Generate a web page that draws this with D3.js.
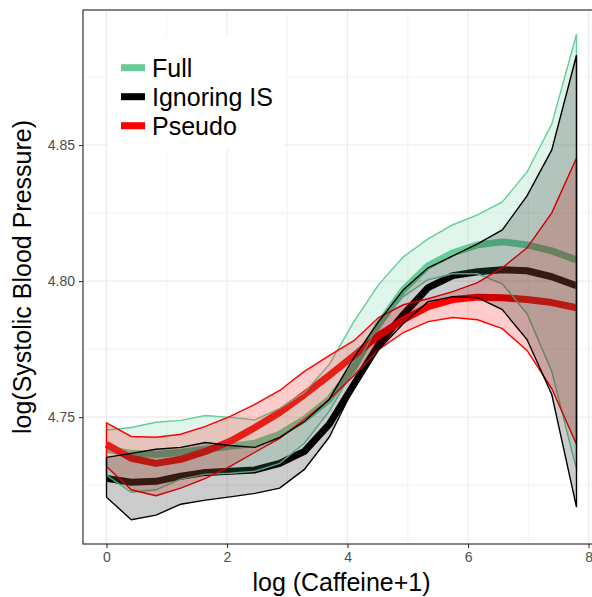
<!DOCTYPE html>
<html><head><meta charset="utf-8">
<script src="https://cdn.jsdelivr.net/npm/d3@7"></script>
<style>body{margin:0;background:#fff}svg{display:block}</style>
</head><body>
<script>
// ---- data ----
const caffeine = [0, 0.4105, 0.8211, 1.2316, 1.6421, 2.0526, 2.4632, 2.8737, 3.2842, 3.6947,
                  4.1053, 4.5158, 4.9263, 5.3368, 5.7474, 6.1579, 6.5684, 6.9789, 7.3895, 7.8];

const fullMean  = [4.7382, 4.7367, 4.7363, 4.7371, 4.7382, 4.7393, 4.7404, 4.7437, 4.7492, 4.7565,
                   4.7682, 4.7840, 4.7968, 4.8056, 4.8104, 4.8133, 4.8144, 4.8133, 4.8111, 4.8078];
const fullLower = [4.7286, 4.7224, 4.7233, 4.7272, 4.7290, 4.7294, 4.7301, 4.7330, 4.7404, 4.7521,
                   4.7675, 4.7840, 4.7943, 4.8005, 4.8027, 4.8027, 4.7990, 4.7880, 4.7668, 4.7308];
const fullUpper = [4.7453, 4.7462, 4.7481, 4.7488, 4.7506, 4.7499, 4.7490, 4.7532, 4.7591, 4.7693,
                   4.7851, 4.7987, 4.8089, 4.8155, 4.8207, 4.8243, 4.8291, 4.8401, 4.8577, 4.8907];

const ignMean   = [4.7275, 4.7261, 4.7264, 4.7283, 4.7297, 4.7301, 4.7306, 4.7330, 4.7374, 4.7473,
                   4.7620, 4.7767, 4.7877, 4.7976, 4.8020, 4.8034, 4.8042, 4.8038, 4.8016, 4.7983];
const ignLower  = [4.7206, 4.7123, 4.7140, 4.7180, 4.7195, 4.7207, 4.7220, 4.7239, 4.7308, 4.7426,
                   4.7609, 4.7748, 4.7844, 4.7924, 4.7943, 4.7939, 4.7895, 4.7785, 4.7583, 4.7169];
const ignUpper  = [4.7352, 4.7367, 4.7382, 4.7389, 4.7407, 4.7396, 4.7389, 4.7426, 4.7484, 4.7565,
                   4.7719, 4.7851, 4.7968, 4.8049, 4.8093, 4.8137, 4.8188, 4.8313, 4.8482, 4.8830];

const pseudoMean  = [4.7400, 4.7349, 4.7330, 4.7345, 4.7374, 4.7411, 4.7462, 4.7517, 4.7583, 4.7653,
                     4.7726, 4.7800, 4.7858, 4.7906, 4.7932, 4.7941, 4.7939, 4.7932, 4.7921, 4.7902];
const pseudoLower = [4.7319, 4.7233, 4.7211, 4.7239, 4.7275, 4.7319, 4.7371, 4.7422, 4.7492, 4.7565,
                     4.7653, 4.7748, 4.7811, 4.7851, 4.7866, 4.7858, 4.7825, 4.7745, 4.7605, 4.7400];
const pseudoUpper = [4.7479, 4.7429, 4.7426, 4.7437, 4.7466, 4.7503, 4.7547, 4.7598, 4.7668, 4.7726,
                     4.7781, 4.7866, 4.7913, 4.7935, 4.7961, 4.7994, 4.8049, 4.8122, 4.8251, 4.8452];

const seriesNames = ["Full", "Ignoring IS", "Pseudo"];
const seriesColors = ["#66CC99", "#000000", "#FF0000"];
const xTicks = [0, 2, 4, 6, 8];
const xMinor = [1, 3, 5, 7];
const yTicks = [4.75, 4.80, 4.85];
const yTickLabels = ["4.75", "4.80", "4.85"];
const yMinor = [4.725, 4.775, 4.825, 4.875];
const xTitle = "log (Caffeine+1)";
const yTitle = "log(Systolic Blood Pressure)";

// ---- layout ----
const W = 592, H = 597;
const P = {left: 83, top: 10, right: 600, bottom: 544};

const svg = d3.select("body").append("svg").attr("width", W).attr("height", H);
svg.append("rect").attr("width", W).attr("height", H).attr("fill", "#fff");

const allX = caffeine;
const allY = fullLower.concat(fullUpper, ignLower, ignUpper, pseudoLower, pseudoUpper);
const xr = d3.extent(allX), yr = d3.extent(allY);
const xpad = (xr[1] - xr[0]) * 0.05, ypad = (yr[1] - yr[0]) * 0.05;
const x = d3.scaleLinear().domain([xr[0] - xpad, xr[1] + xpad]).range([P.left, P.right]);
const y = d3.scaleLinear().domain([yr[0] - ypad, yr[1] + ypad]).range([P.bottom, P.top]);

// grid
const g = svg.append("g");
g.selectAll(".xm").data(xMinor).enter().append("line")
  .attr("x1", d => x(d)).attr("x2", d => x(d)).attr("y1", P.top).attr("y2", P.bottom)
  .attr("stroke", "#ebebeb").attr("stroke-width", 0.6);
g.selectAll(".ym").data(yMinor).enter().append("line")
  .attr("y1", d => y(d)).attr("y2", d => y(d)).attr("x1", P.left).attr("x2", P.right)
  .attr("stroke", "#ebebeb").attr("stroke-width", 0.6);
g.selectAll(".xM").data(xTicks).enter().append("line")
  .attr("x1", d => x(d)).attr("x2", d => x(d)).attr("y1", P.top).attr("y2", P.bottom)
  .attr("stroke", "#ebebeb").attr("stroke-width", 1.2);
g.selectAll(".yM").data(yTicks).enter().append("line")
  .attr("y1", d => y(d)).attr("y2", d => y(d)).attr("x1", P.left).attr("x2", P.right)
  .attr("stroke", "#ebebeb").attr("stroke-width", 1.2);

const pts = (m) => caffeine.map((c, i) => [c, m[i]]);
const line = d3.line().x(d => x(d[0])).y(d => y(d[1]));
const area = d3.area().x(d => x(d.x)).y0(d => y(d.lo)).y1(d => y(d.hi));
const band = (lo, hi) => caffeine.map((c, i) => ({x: c, lo: lo[i], hi: hi[i]}));

// mean lines (drawn first)
const means = [fullMean, ignMean, pseudoMean];
means.forEach((m, k) => {
  svg.append("path").attr("d", line(pts(m))).attr("fill", "none")
    .attr("stroke", seriesColors[k]).attr("stroke-width", 7)
    .attr("stroke-linejoin", "round").attr("stroke-linecap", "butt");
});

// ribbons
const ribbons = [
  {lo: fullLower, hi: fullUpper, k: 0},
  {lo: pseudoLower, hi: pseudoUpper, k: 2},
  {lo: ignLower, hi: ignUpper, k: 1}
];
ribbons.forEach(r => {
  svg.append("path").attr("d", area(band(r.lo, r.hi)))
    .attr("fill", seriesColors[r.k]).attr("fill-opacity", 0.2)
    .attr("stroke", seriesColors[r.k]).attr("stroke-width", 1.4)
    .attr("stroke-linejoin", "miter");
});

// panel border
svg.append("rect").attr("x", P.left).attr("y", P.top)
  .attr("width", P.right - P.left).attr("height", P.bottom - P.top)
  .attr("fill", "none").attr("stroke", "#333333").attr("stroke-width", 1.2);

// axes
const xAxis = d3.axisBottom(x).tickValues(xTicks).tickSize(4).tickPadding(4).tickFormat(d3.format("d"));
const gx = svg.append("g").attr("transform", `translate(0,${P.bottom})`).call(xAxis);
gx.select(".domain").remove();
gx.selectAll("line").attr("stroke", "#333333").attr("stroke-width", 1.1);
gx.selectAll("text").attr("fill", "#4d4d4d").attr("font-size", 14)
  .attr("font-family", "'Liberation Sans', Arial, sans-serif");

const yAxis = d3.axisLeft(y).tickValues(yTicks).tickSize(4).tickPadding(4)
  .tickFormat((d, i) => yTickLabels[i]);
const gy = svg.append("g").attr("transform", `translate(${P.left},0)`).call(yAxis);
gy.select(".domain").remove();
gy.selectAll("line").attr("stroke", "#333333").attr("stroke-width", 1.1);
gy.selectAll("text").attr("fill", "#4d4d4d").attr("font-size", 14)
  .attr("font-family", "'Liberation Sans', Arial, sans-serif");

// titles
svg.append("text").attr("x", (P.left + P.right) / 2).attr("y", 591)
  .attr("text-anchor", "middle").attr("font-size", 25)
  .attr("font-family", "'Liberation Sans', Arial, sans-serif").attr("fill", "#000")
  .text(xTitle);
svg.append("text").attr("transform", `translate(31,${(P.top + P.bottom) / 2}) rotate(-90)`)
  .attr("text-anchor", "middle").attr("font-size", 25)
  .attr("font-family", "'Liberation Sans', Arial, sans-serif").attr("fill", "#000")
  .text(yTitle);

// legend
const lg = svg.append("g");
lg.append("rect").attr("x", 108).attr("y", 35).attr("width", 176).attr("height", 115).attr("fill", "#fff");
seriesNames.forEach((n, i) => {
  const cy = 67.7 + i * 29;
  lg.append("line").attr("x1", 121).attr("x2", 145).attr("y1", cy).attr("y2", cy)
    .attr("stroke", seriesColors[i]).attr("stroke-width", 7);
  lg.append("text").attr("x", 152).attr("y", cy + 9.3).attr("font-size", 25)
    .attr("font-family", "'Liberation Sans', Arial, sans-serif").attr("fill", "#000").text(n);
});
</script>
</body></html>
